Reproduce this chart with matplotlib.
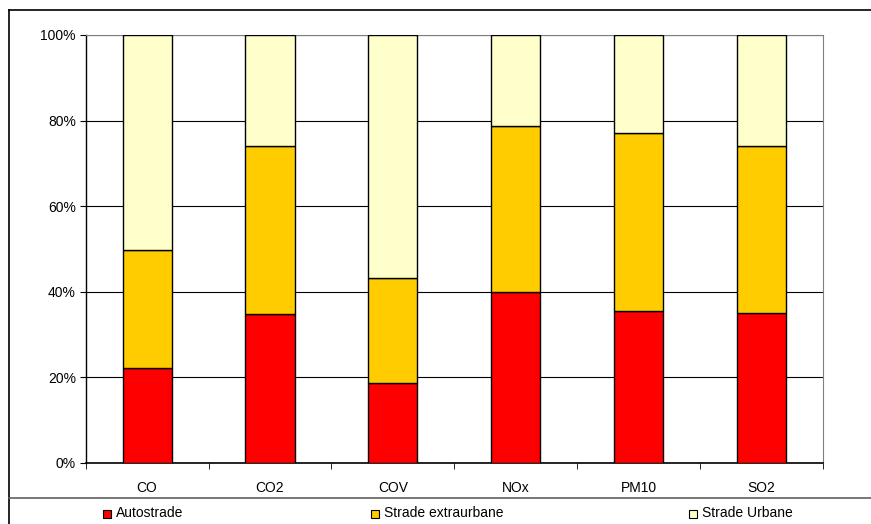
import numpy as np
import matplotlib.pyplot as plt
from matplotlib.lines import Line2D
from matplotlib.ticker import FuncFormatter

plt.rcParams['font.family'] = ['Liberation Sans', 'DejaVu Sans']

categories = ['CO', 'CO2', 'COV', 'NOx', 'PM10', 'SO2']
autostrade = [22.1, 34.7, 18.6, 39.8, 35.4, 34.9]
extraurbane = [27.6, 39.3, 24.6, 38.9, 41.6, 39.1]
urbane = [100 - a - b for a, b in zip(autostrade, extraurbane)]
series_names = ['Autostrade', 'Strade extraurbane', 'Strade Urbane']
colors = ['#ff0000', '#ffcc00', '#ffffcc']

W, H = 871, 524
fig = plt.figure(figsize=(W / 100, H / 100), dpi=100)
ax = fig.add_axes([85.7 / W, 1 - 462.7 / H, 737 / W, 427.7 / H])

x = np.arange(len(categories))
bottom = np.zeros(len(categories))
for vals, col, name in zip([autostrade, extraurbane, urbane], colors, series_names):
    ax.bar(x, vals, width=0.4, bottom=bottom, color=col, edgecolor='black',
           linewidth=1.0, label=name, zorder=3)
    bottom += np.array(vals)

ax.set_xlim(-0.5, len(categories) - 0.5)
ax.set_ylim(0, 100)
ax.set_yticks(np.arange(0, 101, 20))
ax.yaxis.set_major_formatter(FuncFormatter(lambda v, p: f'{int(v)}%'))
ax.set_xticks(x)
ax.set_xticklabels(categories)
ax.set_xticks(np.arange(-0.5, len(categories)), minor=True)
ax.tick_params(axis='x', which='major', length=0, pad=13, labelsize=10)
ax.tick_params(axis='x', which='minor', length=4, direction='out', color='black')
ax.tick_params(axis='y', length=4, direction='out', labelsize=10, pad=3)

ax.grid(axis='y', color='black', linewidth=0.8, zorder=0)
ax.set_axisbelow(True)
ax.spines['left'].set_color('black')
ax.spines['bottom'].set_color('black')
ax.spines['left'].set_linewidth(1.0)
ax.spines['bottom'].set_linewidth(1.2)
ax.spines['top'].set_color('#808080')
ax.spines['right'].set_color('#808080')

# outer frame and legend separator
fig.add_artist(Line2D([9 / W, 9 / W], [0, 1 - 10 / H], transform=fig.transFigure,
                      color='black', linewidth=1.2))
fig.add_artist(Line2D([9 / W, 1], [1 - 10 / H, 1 - 10 / H], transform=fig.transFigure,
                      color='black', linewidth=1.2))
fig.add_artist(Line2D([9 / W, 1], [1 - 498 / H, 1 - 498 / H], transform=fig.transFigure,
                      color='#606060', linewidth=1.2))

# legend entries spread across the bottom band
leg_x = [103, 371, 689]
for lx, col, name in zip(leg_x, colors, series_names):
    fig.patches.append(plt.Rectangle((lx / W, 1 - 518 / H), 8 / W, 8 / H,
                                     transform=fig.transFigure, facecolor=col,
                                     edgecolor='black', linewidth=0.8))
    fig.text((lx + 13) / W, 1 - 513 / H, name, fontsize=10, va='center', ha='left')

fig.savefig('out.png', dpi=100)
